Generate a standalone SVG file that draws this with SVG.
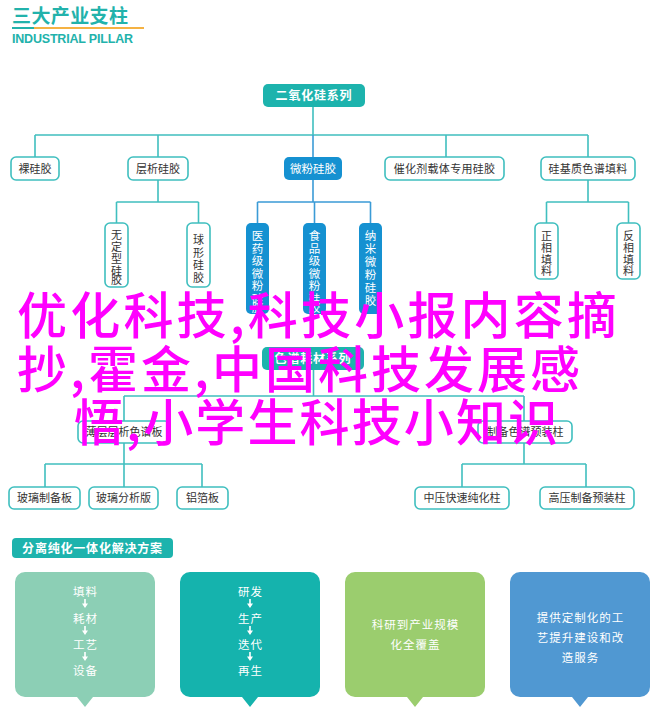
<svg xmlns="http://www.w3.org/2000/svg" width="660" height="720" viewBox="0 0 660 720">
<defs>
<style>
text{font-family:"Noto Sans CJK SC","Liberation Sans",sans-serif;}
.box{fill:#ffffff;stroke:#3fbfbf;stroke-width:1.6;}
.tealf{fill:#1db3ad;}
.bluef{fill:#1591d1;}
.lbl{font-size:11px;fill:#333333;text-anchor:middle;}
.wl{font-size:11.5px;fill:#ffffff;text-anchor:middle;}
.wb{font-size:12px;fill:#ffffff;text-anchor:middle;font-weight:bold;letter-spacing:0.8px;}
.ct{font-size:11.5px;fill:#ffffff;text-anchor:middle;letter-spacing:1px;}
.tl{stroke:#40bfbf;stroke-width:1.6;fill:none;}
.bl{stroke:#3b9bd6;stroke-width:1.6;fill:none;}
.mag{font-size:50px;fill:#ff00ff;font-weight:500;}
</style>
</defs>

<g id="header">
<text x="12" y="22.5" font-size="19" font-weight="bold" fill="#22b2ab" textLength="116">三大产业支柱</text>
<line x1="12" y1="28" x2="34" y2="28" stroke="#22b2ab" stroke-width="2"/>
<line x1="34" y1="28" x2="144" y2="28" stroke="#f5b243" stroke-width="2"/>
<text x="12" y="43" font-size="12.5" font-weight="bold" fill="#22b2ab" textLength="121" style="font-family:'Liberation Sans',sans-serif">INDUSTRIAL PILLAR</text>
</g>

<g id="connectors">
<path class="tl" d="M313 107V135M35 135H588M35 135V157M158 135V157M446 135V157M588 135V157"/>
<path class="bl" d="M313 135V157"/>
<path class="tl" d="M158 180V202M116.5 202H198.5M116.5 202V223M198.5 202V223"/>
<path class="bl" d="M313 180V202M257.5 202H370.5M257.5 202V223M314.5 202V223M370.5 202V223"/>
<path class="tl" d="M588 180V202M546.5 202H628.5M546.5 202V223M628.5 202V223"/>
<path class="tl" d="M313.5 370V396M124 396H524M124 396V421M524 396V421"/>
<path class="tl" d="M124 443V464M45 464H202M45 464V487M124 464V487M202 464V487"/>
<path class="tl" d="M524 443V464M462 464H586M462 464V487M586 464V487"/>
</g>

<g id="n-root"><rect class="tealf" x="263" y="84" width="102" height="23" rx="5"/><text class="wb" x="314" y="100">二氧化硅系列</text></g>

<g id="n-luo"><rect class="box" x="11" y="157" width="48" height="23" rx="5"/><text class="lbl" x="35" y="172.5">裸硅胶</text></g>
<g id="n-cengxi"><rect class="box" x="128" y="157" width="60" height="23" rx="5"/><text class="lbl" x="158" y="172.5">层析硅胶</text></g>
<g id="n-weifen"><rect class="bluef" x="284" y="157" width="58" height="23" rx="5"/><text class="wl" x="313" y="172.5" font-size="11">微粉硅胶</text></g>
<g id="n-cuihua"><rect class="box" x="385" y="157" width="119" height="23" rx="5"/><text class="lbl" x="444.5" y="172.5" letter-spacing="0.3">催化剂载体专用硅胶</text></g>
<g id="n-guiji"><rect class="box" x="541" y="157" width="94" height="23" rx="5"/><text class="lbl" x="588" y="172.5" letter-spacing="0.3">硅基质色谱填料</text></g>

<g id="n-wudingxing"><rect class="box" x="105" y="223" width="23" height="64" rx="5"/>
<text class="lbl" x="116.5"><tspan x="116.5" y="239">无</tspan><tspan x="116.5" y="251">定</tspan><tspan x="116.5" y="263">型</tspan><tspan x="116.5" y="275">硅</tspan><tspan x="116.5" y="287" dy="-3">胶</tspan></text></g>
<g id="n-qiuxing"><rect class="box" x="187" y="223" width="23" height="64" rx="5"/>
<text class="lbl" x="198.5"><tspan x="198.5" y="244">球</tspan><tspan x="198.5" y="256.5">形</tspan><tspan x="198.5" y="269">硅</tspan><tspan x="198.5" y="281.5">胶</tspan></text></g>

<g id="n-yiyao"><rect class="bluef" x="246" y="223" width="23" height="91" rx="5"/>
<text class="wl" x="257.5"><tspan x="257.5" y="240">医</tspan><tspan x="257.5" y="252.5">药</tspan><tspan x="257.5" y="265">级</tspan><tspan x="257.5" y="277.5">微</tspan><tspan x="257.5" y="290">粉</tspan><tspan x="257.5" y="302.5">硅</tspan><tspan x="257.5" y="315" dy="-3">胶</tspan></text></g>
<g id="n-shipin"><rect class="bluef" x="303" y="223" width="23" height="91" rx="5"/>
<text class="wl" x="314.5"><tspan x="314.5" y="240">食</tspan><tspan x="314.5" y="252.5">品</tspan><tspan x="314.5" y="265">级</tspan><tspan x="314.5" y="277.5">微</tspan><tspan x="314.5" y="290">粉</tspan><tspan x="314.5" y="302.5">硅</tspan><tspan x="314.5" y="315" dy="-3">胶</tspan></text></g>
<g id="n-nami"><rect class="bluef" x="359" y="223" width="23" height="91" rx="5"/>
<text class="wl" x="370.5"><tspan x="370.5" y="240">纳</tspan><tspan x="370.5" y="253">米</tspan><tspan x="370.5" y="266">微</tspan><tspan x="370.5" y="279">粉</tspan><tspan x="370.5" y="292">硅</tspan><tspan x="370.5" y="305">胶</tspan></text></g>

<g id="n-zhengxiang"><rect class="box" x="535" y="223" width="23" height="56" rx="5"/>
<text class="lbl" x="546.5"><tspan x="546.5" y="239.5">正</tspan><tspan x="546.5" y="251.5">相</tspan><tspan x="546.5" y="263.5">填</tspan><tspan x="546.5" y="275.5" dy="-1">料</tspan></text></g>
<g id="n-fanxiang"><rect class="box" x="617" y="223" width="23" height="56" rx="5"/>
<text class="lbl" x="628.5"><tspan x="628.5" y="239.5">反</tspan><tspan x="628.5" y="251.5">相</tspan><tspan x="628.5" y="263.5">填</tspan><tspan x="628.5" y="275.5" dy="-1">料</tspan></text></g>

<g id="n-sepu"><rect class="tealf" x="262" y="347" width="102" height="23" rx="5"/><text class="wb" x="313" y="363">色谱耗材系列</text></g>
<g id="n-bocheng"><rect class="box" x="78" y="421" width="92" height="22" rx="5"/><text class="lbl" x="124" y="436">薄层层析色谱板</text></g>
<g id="n-zhibei"><rect class="box" x="478" y="421" width="94" height="22" rx="5"/><text class="lbl" x="525" y="436">制备色谱预装柱</text></g>

<g id="n-boli1"><rect class="box" x="9" y="487" width="71" height="22" rx="5"/><text class="lbl" x="44.5" y="502">玻璃制备板</text></g>
<g id="n-boli2"><rect class="box" x="89" y="487" width="69" height="22" rx="5"/><text class="lbl" x="123.5" y="502">玻璃分析版</text></g>
<g id="n-lvbo"><rect class="box" x="177" y="487" width="51" height="22" rx="5"/><text class="lbl" x="202.5" y="502">铝箔板</text></g>
<g id="n-zhongya"><rect class="box" x="415" y="487" width="94" height="22" rx="5"/><text class="lbl" x="462" y="502">中压快速纯化柱</text></g>
<g id="n-gaoya"><rect class="box" x="540" y="487" width="94" height="22" rx="5"/><text class="lbl" x="587" y="502">高压制备预装柱</text></g>

<g id="solution-title"><rect class="tealf" x="12" y="538" width="161" height="20" rx="4"/><text class="wb" x="92.5" y="552.5" font-size="12.5">分离纯化一体化解决方案</text></g>

<g id="card1">
<path d="M25 572H145A10 10 0 0 1 155 582V687A10 10 0 0 1 145 697H93L85 707L77 697H25A10 10 0 0 1 15 687V582A10 10 0 0 1 25 572Z" fill="#8ccfb5"/>
<text class="ct" x="85.5" y="595.5">填料</text>
<text class="ct" x="85.5" y="622.5">耗材</text>
<text class="ct" x="85.5" y="648.5">工艺</text>
<text class="ct" x="85.5" y="674.5">设备</text>
<path d="M85 599V604M85 626V631M85 652V657" stroke="#ffffff" stroke-width="1.6"/>
<path d="M82 603.5H88L85 608ZM82 630.5H88L85 635ZM82 656.5H88L85 661Z" fill="#ffffff"/>
</g>
<g id="card2">
<path d="M190 572H310A10 10 0 0 1 320 582V687A10 10 0 0 1 310 697H258L250 707L242 697H190A10 10 0 0 1 180 687V582A10 10 0 0 1 190 572Z" fill="#15b3ad"/>
<text class="ct" x="250.5" y="595.5">研发</text>
<text class="ct" x="250.5" y="622.5">生产</text>
<text class="ct" x="250.5" y="648.5">迭代</text>
<text class="ct" x="250.5" y="674.5">再生</text>
<path d="M250 599V604M250 626V631M250 652V657" stroke="#ffffff" stroke-width="1.6"/>
<path d="M247 603.5H253L250 608ZM247 630.5H253L250 635ZM247 656.5H253L250 661Z" fill="#ffffff"/>
</g>
<g id="card3">
<path d="M355 572H475A10 10 0 0 1 485 582V687A10 10 0 0 1 475 697H423L415 707L407 697H355A10 10 0 0 1 345 687V582A10 10 0 0 1 355 572Z" fill="#9bcd6e"/>
<text class="ct" x="415.5" y="628.5">科研到产业规模</text>
<text class="ct" x="415.5" y="648.5">化全覆盖</text>
</g>
<g id="card4">
<path d="M520 572H640A10 10 0 0 1 650 582V687A10 10 0 0 1 640 697H588L580 707L572 697H520A10 10 0 0 1 510 687V582A10 10 0 0 1 520 572Z" fill="#5098d2"/>
<text class="ct" x="580.5" y="621.5">提供定制化的工</text>
<text class="ct" x="580.5" y="641.5">艺提升建设和改</text>
<text class="ct" x="580.5" y="661.5">造服务</text>
</g>

<g id="overlay">
<text class="mag" x="17" y="334" textLength="600">优化科技,科技小报内容摘</text>
<text class="mag" x="17" y="388" textLength="563">抄,霍金,中国科技发展感</text>
<text class="mag" x="74" y="441" textLength="484">悟,小学生科技小知识</text>
</g>
</svg>
